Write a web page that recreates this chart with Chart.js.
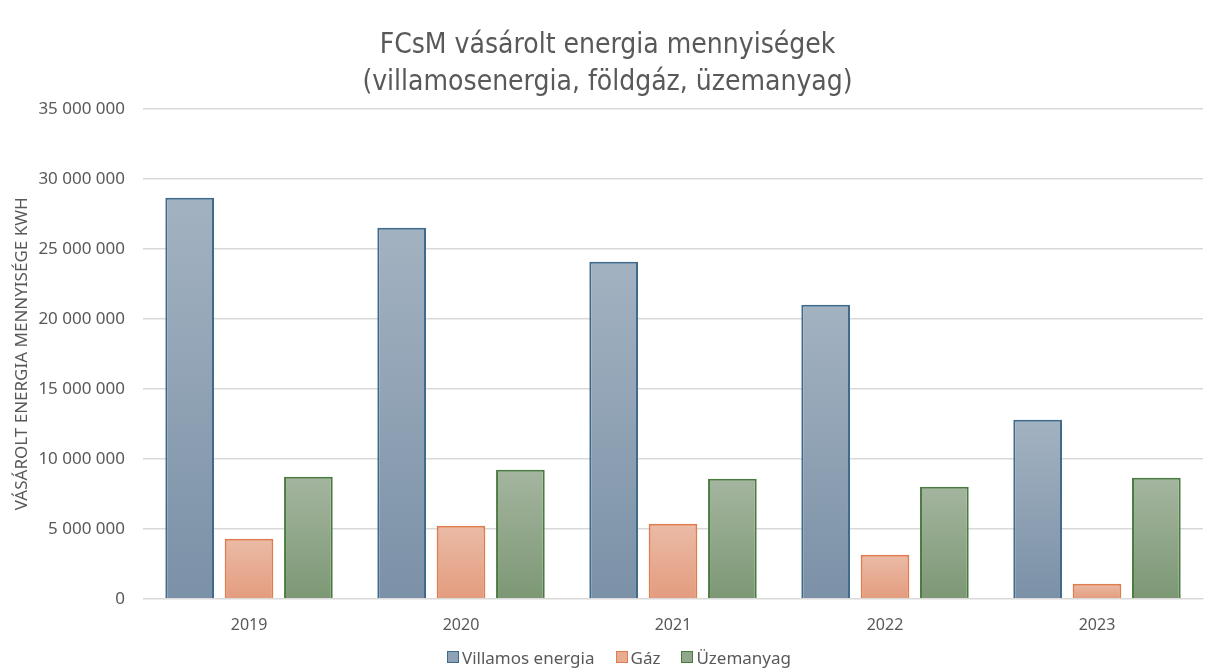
<!DOCTYPE html>
<html lang="hu">
<head>
  <meta charset="UTF-8">
  <title>FCsM vásárolt energia mennyiségek</title>
  <script src="https://cdn.jsdelivr.net/npm/chart.js"></script>
  <style>
    html, body { margin: 0; padding: 0; background: #fff; }
    #wrap { width: 1208px; height: 670px; position: relative; }
    #legend {
      position: absolute; left: 30px; right: 0; top: 646px; height: 22px;
      display: flex; justify-content: center; align-items: center; gap: 21px;
      font-family: 'Noto Sans', 'Liberation Sans', sans-serif; font-size: 17px; color: #595959;
    }
    #legend .item { display: flex; align-items: center; white-space: nowrap; }
    #legend .box { width: 10px; height: 10px; margin-right: 3px; border: 1.5px solid; }
  </style>
</head>
<body>
  <div id="wrap">
    <canvas id="energyChart"></canvas>
    <div id="legend"></div>
  </div>
  <script>
    const years = ['2019', '2020', '2021', '2022', '2023'];
    const villamos = [28650000, 26500000, 24070000, 21000000, 12790000];
    const gaz = [4290000, 5210000, 5360000, 3140000, 1070000];
    const uzemanyag = [8710000, 9210000, 8570000, 8000000, 8640000];
    const yTicks = [0, 5000000, 10000000, 15000000, 20000000, 25000000, 30000000, 35000000];

    const textColor = '#595959';
    const baseFont = "'Noto Sans', 'Liberation Sans', sans-serif";

    function fmt(v) {
      return String(v).replace(/\B(?=(\d{3})+(?!\d))/g, ' ');
    }

    // vertical gradient per bar: light at top, darker at the base
    function barGradient(top, bottom) {
      return (context) => {
        const chart = context.chart;
        const yScale = chart.scales.y;
        if (!chart.chartArea || !yScale || context.raw == null) return top;
        const y0 = yScale.getPixelForValue(context.raw);
        const y1 = yScale.getPixelForValue(0);
        if (!isFinite(y0) || !isFinite(y1) || y0 === y1) return top;
        const g = chart.ctx.createLinearGradient(0, y0, 0, y1);
        g.addColorStop(0, top);
        g.addColorStop(1, bottom);
        return g;
      };
    }

    // legend swatch colours (middle of each gradient)
    const swatch = ['#8fa2b5', '#e8ac92', '#91a78a'];

    // html legend built from the chart's own legend items
    const htmlLegend = {
      id: 'htmlLegend',
      afterUpdate(chart) {
        const el = document.getElementById('legend');
        el.innerHTML = '';
        const items = chart.options.plugins.legend.labels.generateLabels(chart);
        items.forEach((item, i) => {
          const row = document.createElement('div');
          row.className = 'item';
          const box = document.createElement('span');
          box.className = 'box';
          box.style.background = swatch[i];
          box.style.borderColor = item.strokeStyle;
          const txt = document.createElement('span');
          txt.textContent = item.text;
          row.appendChild(box);
          row.appendChild(txt);
          el.appendChild(row);
        });
      }
    };

    const ctx = document.getElementById('energyChart').getContext('2d');
    new Chart(ctx, {
      type: 'bar',
      data: {
        labels: years,
        datasets: [
          {
            label: 'Villamos energia',
            data: villamos,
            backgroundColor: barGradient('#a3b2c1', '#7b91a7'),
            borderColor: '#3f6a8c',
            borderWidth: 2,
            borderSkipped: 'bottom'
          },
          {
            label: 'Gáz',
            data: gaz,
            backgroundColor: barGradient('#ebbba6', '#e39c7e'),
            borderColor: '#df7d4f',
            borderWidth: 2,
            borderSkipped: 'bottom'
          },
          {
            label: 'Üzemanyag',
            data: uzemanyag,
            backgroundColor: barGradient('#a4b59f', '#7d9875'),
            borderColor: '#4b7a40',
            borderWidth: 2,
            borderSkipped: 'bottom'
          }
        ]
      },
      plugins: [htmlLegend],
      options: {
        responsive: true,
        maintainAspectRatio: false,
        animation: false,
        categoryPercentage: 0.84,
        barPercentage: 0.82,
        layout: { padding: { left: 12, right: 5, top: 28, bottom: 26 } },
        plugins: {
          title: {
            display: true,
            text: ['FCsM vásárolt energia mennyiségek', '(villamosenergia, földgáz, üzemanyag)'],
            color: textColor,
            font: { family: "'Liberation Sans Narrow', 'DejaVu Sans Condensed', sans-serif", size: 28, weight: 'normal', lineHeight: 1.3 },
            padding: { top: 0, bottom: 8 }
          },
          legend: { display: false },
          tooltip: { enabled: false }
        },
        scales: {
          x: {
            grid: { display: false },
            border: { color: '#d9d9d9', width: 1 },
            ticks: { color: textColor, font: { family: baseFont, size: 16 }, padding: 9 }
          },
          y: {
            min: 0,
            max: 35000000,
            afterBuildTicks: (axis) => { axis.ticks = yTicks.map(v => ({ value: v })); },
            grid: { color: '#d9d9d9', lineWidth: 1.5, drawTicks: false },
            border: { display: false },
            ticks: {
              color: textColor,
              font: { family: baseFont, size: 17 },
              padding: 18,
              callback: (v) => fmt(v)
            },
            title: {
              display: true,
              text: 'VÁSÁROLT ENERGIA MENNYISÉGE KWH',
              color: textColor,
              font: { family: baseFont, size: 17 },
              padding: { top: 0, bottom: -12 }
            }
          }
        }
      }
    });
  </script>
</body>
</html>
